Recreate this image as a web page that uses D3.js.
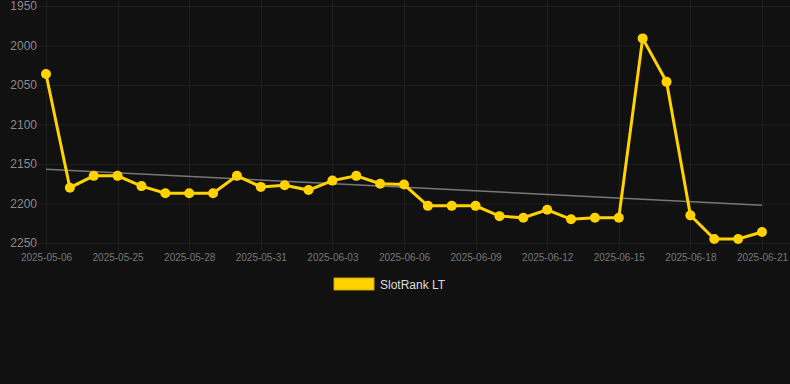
<!DOCTYPE html>
<html>
<head>
<meta charset="utf-8">
<script src="https://cdn.jsdelivr.net/npm/d3@7"></script>
<style>
  html, body { margin: 0; padding: 0; background: #111111; }
  #chart { width: 790px; height: 384px; }
  text { font-family: "Liberation Sans", Arial, sans-serif; }
</style>
</head>
<body>
<div id="chart"></div>
<script>
var dates = ["2025-05-06", "2025-05-23", "2025-05-24", "2025-05-25", "2025-05-26", "2025-05-27",
    "2025-05-28", "2025-05-29", "2025-05-30", "2025-05-31", "2025-06-01", "2025-06-02",
    "2025-06-03", "2025-06-04", "2025-06-05", "2025-06-06", "2025-06-07", "2025-06-08",
    "2025-06-09", "2025-06-10", "2025-06-11", "2025-06-12", "2025-06-13", "2025-06-14",
    "2025-06-15", "2025-06-16", "2025-06-17", "2025-06-18", "2025-06-19", "2025-06-20",
    "2025-06-21"];
var ranks = [2036, 2180, 2165, 2165, 2178, 2187, 2187, 2187, 2165, 2179, 2177, 2183,
    2171, 2165, 2175, 2176, 2203, 2203, 2203, 2216, 2218, 2208, 2220, 2218, 2218,
    1991, 2046, 2215, 2245, 2245, 2236];
var yTicks = [1950, 2000, 2050, 2100, 2150, 2200, 2250];
var seriesName = "SlotRank LT";

var width = 790;
var height = 384;
var plotLeft = 46, plotRight = 762, plotTop = 6, plotBottom = 243;

var svg = d3.select("#chart")
    .append("svg")
    .attr("width", width)
    .attr("height", height);

svg.append("rect")
    .attr("width", width)
    .attr("height", height)
    .attr("fill", "#111111");

var xScale = d3.scalePoint()
    .domain(dates)
    .range([plotLeft, plotRight]);
var yScale = d3.scaleLinear()
    .domain([1950, 2250])
    .range([plotTop, plotBottom]);

// every third date gets a label and a grid line
var labelDates = dates.filter(function (d, i) { return i % 3 === 0; });

// horizontal grid
svg.append("g")
    .selectAll("line")
    .data(yTicks)
    .enter()
    .append("line")
    .attr("x1", 38)
    .attr("x2", width)
    .attr("y1", function (d) { return yScale(d) + 0.5; })
    .attr("y2", function (d) { return yScale(d) + 0.5; })
    .attr("stroke", "#1f1f1f")
    .attr("stroke-width", 1);

// vertical grid
svg.append("g")
    .selectAll("line")
    .data(labelDates)
    .enter()
    .append("line")
    .attr("x1", function (d) { return Math.round(xScale(d)) + 0.5; })
    .attr("x2", function (d) { return Math.round(xScale(d)) + 0.5; })
    .attr("y1", 0)
    .attr("y2", plotBottom + 7)
    .attr("stroke", "#1f1f1f")
    .attr("stroke-width", 1);

var yAxis = d3.axisLeft(yScale)
    .tickValues(yTicks)
    .tickFormat(d3.format("d"))
    .tickSize(0)
    .tickPadding(0);

svg.append("g")
    .attr("transform", "translate(37,0)")
    .call(yAxis)
    .call(function (g) { g.select(".domain").remove(); })
    .selectAll("text")
    .attr("fill", "#8a8a8a")
    .style("font-size", "12px");

var xAxis = d3.axisBottom(xScale)
    .tickValues(labelDates)
    .tickSize(0)
    .tickPadding(0);

svg.append("g")
    .attr("transform", "translate(0," + (plotBottom + 11) + ")")
    .call(xAxis)
    .call(function (g) { g.select(".domain").remove(); })
    .selectAll("text")
    .attr("fill", "#777777")
    .style("font-size", "10px");

// least squares trend
var n = ranks.length;
var meanX = d3.mean(ranks, function (d, i) { return i; });
var meanY = d3.mean(ranks);
var sxy = 0, sxx = 0;
ranks.forEach(function (v, i) {
    sxy += (i - meanX) * (v - meanY);
    sxx += (i - meanX) * (i - meanX);
});
var slope = sxy / sxx;
var intercept = meanY - slope * meanX;

svg.append("line")
    .attr("x1", xScale(dates[0]))
    .attr("y1", yScale(intercept))
    .attr("x2", xScale(dates[n - 1]))
    .attr("y2", yScale(intercept + slope * (n - 1)))
    .attr("stroke", "#777777")
    .attr("stroke-width", 1.5);

var line = d3.line()
    .x(function (d, i) { return xScale(dates[i]); })
    .y(function (d) { return yScale(d); });

svg.append("path")
    .datum(ranks)
    .attr("d", line)
    .attr("fill", "none")
    .attr("stroke", "#FFD200")
    .attr("stroke-width", 3);

svg.selectAll(".dot")
    .data(ranks)
    .enter()
    .append("circle")
    .attr("class", "dot")
    .attr("cx", function (d, i) { return xScale(dates[i]); })
    .attr("cy", function (d) { return yScale(d); })
    .attr("r", 5)
    .attr("fill", "#FFD200");

// legend
var legend = svg.append("g").attr("transform", "translate(334,278)");
legend.append("rect")
    .attr("width", 40)
    .attr("height", 12)
    .attr("fill", "#FFD200")
    .attr("stroke", "#c9a400")
    .attr("stroke-width", 1);
legend.append("text")
    .attr("x", 46)
    .attr("y", 10.5)
    .attr("fill", "#dddddd")
    .style("font-size", "12px")
    .text(seriesName);
</script>
</body>
</html>
